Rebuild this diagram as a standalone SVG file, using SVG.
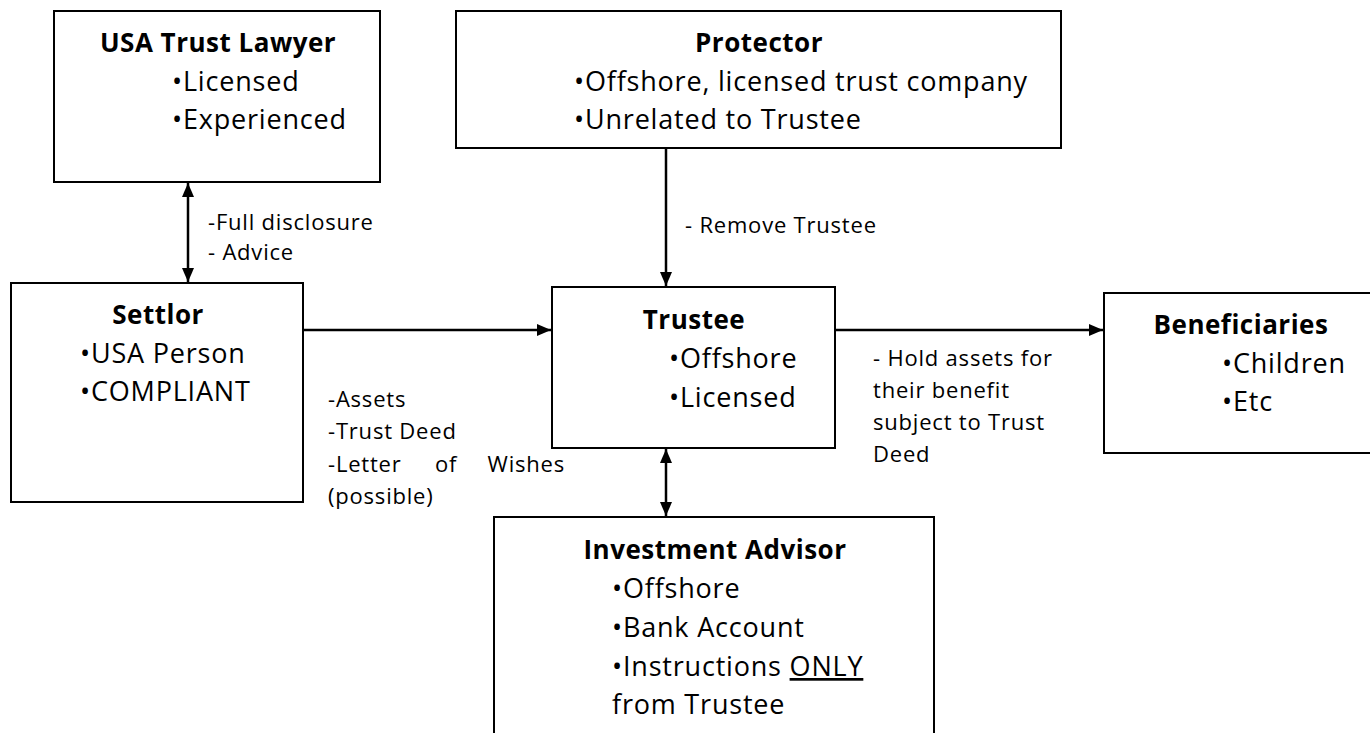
<svg xmlns="http://www.w3.org/2000/svg" width="1370" height="733" viewBox="0 0 1370 733">
<style>
.box{fill:#fff;stroke:#000;stroke-width:2}
.t{font-family:"Open Sans","Liberation Sans",sans-serif;fill:#000}
.title{font-size:26px;font-weight:bold;text-anchor:middle;letter-spacing:0.5px}
.item{font-size:27px;letter-spacing:0.8px}
.lbl{font-size:22px;letter-spacing:0.8px}
.conn{stroke:#000;stroke-width:2.5;fill:none}
</style>
<defs>
<marker id="ah" viewBox="0 0 14 12" refX="14" refY="6" markerWidth="14" markerHeight="12" markerUnits="userSpaceOnUse" orient="auto-start-reverse">
<path d="M0,0 L14,6 L0,12 Z" fill="#000"/>
</marker>
</defs>
<rect width="1370" height="733" fill="#fff"/>
<g id="connectors">
<line class="conn" x1="188" y1="183" x2="188" y2="282" marker-start="url(#ah)" marker-end="url(#ah)"/>
<line class="conn" x1="666" y1="148" x2="666" y2="286" marker-end="url(#ah)"/>
<line class="conn" x1="303" y1="330" x2="551" y2="330" marker-end="url(#ah)"/>
<line class="conn" x1="835" y1="330" x2="1103" y2="330" marker-end="url(#ah)"/>
<line class="conn" x1="666" y1="449" x2="666" y2="516" marker-start="url(#ah)" marker-end="url(#ah)"/>
</g>
<g id="labels" class="t lbl">
<text x="208" y="230">-Full disclosure</text>
<text x="208" y="260">- Advice</text>
<text x="685" y="233">- Remove Trustee</text>
<text x="328" y="407">-Assets</text>
<text x="328" y="439">-Trust Deed</text>
<text x="328" y="472">-Letter</text>
<text x="435" y="472">of</text>
<text x="565" y="472" text-anchor="end">Wishes</text>
<text x="328" y="504">(possible)</text>
<text x="873" y="366">- Hold assets for</text>
<text x="873" y="398">their benefit</text>
<text x="873" y="430">subject to Trust</text>
<text x="873" y="462">Deed</text>
</g>
<g id="lawyer">
<rect class="box" x="54" y="11" width="326" height="171"/>
<text class="t title" x="218" y="52">USA Trust Lawyer</text>
<text class="t item" x="172" y="91">•Licensed</text>
<text class="t item" x="172" y="129">•Experienced</text>
</g>
<g id="protector">
<rect class="box" x="456" y="11" width="605" height="137"/>
<text class="t title" x="759" y="52">Protector</text>
<text class="t item" x="574" y="91">•Offshore, licensed trust company</text>
<text class="t item" x="574" y="129">•Unrelated to Trustee</text>
</g>
<g id="settlor">
<rect class="box" x="11" y="283" width="292" height="219"/>
<text class="t title" x="158" y="324">Settlor</text>
<text class="t item" x="80" y="363">•USA Person</text>
<text class="t item" x="80" y="401">•COMPLIANT</text>
</g>
<g id="trustee">
<rect class="box" x="552" y="287" width="283" height="161"/>
<text class="t title" x="694" y="329">Trustee</text>
<text class="t item" x="669" y="368">•Offshore</text>
<text class="t item" x="669" y="407">•Licensed</text>
</g>
<g id="beneficiaries">
<rect class="box" x="1104" y="293" width="280" height="160"/>
<text class="t title" x="1241" y="334">Beneficiaries</text>
<text class="t item" x="1222" y="373">•Children</text>
<text class="t item" x="1222" y="411">•Etc</text>
</g>
<g id="investment">
<rect class="box" x="494" y="517" width="440" height="240"/>
<text class="t title" x="715" y="559">Investment Advisor</text>
<text class="t item" x="612" y="598">•Offshore</text>
<text class="t item" x="612" y="637">•Bank Account</text>
<text class="t item" x="612" y="676">•Instructions <tspan text-decoration="underline">ONLY</tspan></text>
<text class="t item" x="612" y="714">from Trustee</text>
</g>
</svg>
